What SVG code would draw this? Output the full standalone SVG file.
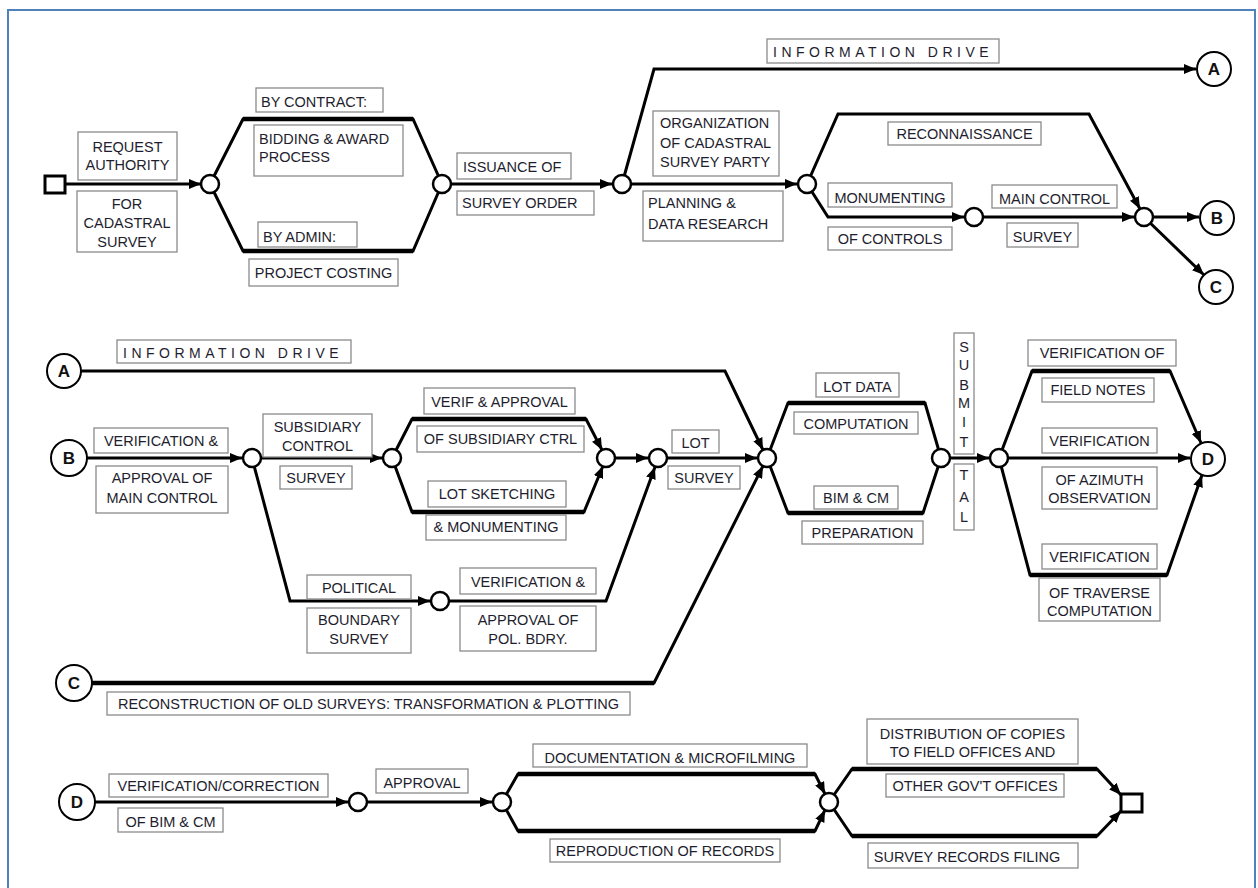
<svg xmlns="http://www.w3.org/2000/svg" width="1258" height="888" viewBox="0 0 1258 888">
<style>
.frame{fill:#fff;stroke:#4f81bd;stroke-width:2}
.conn{fill:none;stroke:#000;stroke-width:3;stroke-linejoin:miter}
.thick{fill:none;stroke:#000;stroke-width:4.5}
.ev{fill:#fff;stroke:#000;stroke-width:2.5}
.term{fill:#fff;stroke:#000;stroke-width:3}
.conc{fill:#fff;stroke:#000;stroke-width:2}
.cl{font-family:"Liberation Sans",Arial,sans-serif;font-weight:bold;font-size:17px;fill:#111;text-anchor:middle}
.box{fill:#fff;stroke:#8a8a8a;stroke-width:1.3}
.t{font-family:"Liberation Sans",Arial,sans-serif;font-size:14.5px;fill:#1e1e2e}
.m{text-anchor:middle}
.sp{font-size:14px;letter-spacing:4.5px}
</style>
<defs>
<marker id="ah" markerUnits="userSpaceOnUse" markerWidth="12" markerHeight="10" refX="12" refY="5" orient="auto">
<path d="M0,0 L12,5 L0,10 z" fill="#000"/>
</marker>
</defs>
<rect class="frame" x="8" y="10" width="1247" height="895"/>

<g id="connectors">
<!-- row 1 -->
<path class="conn" d="M66,184 L201,184" marker-end="url(#ah)"/>
<path class="conn" d="M210,184 L243,119 L413,119 L442,184"/>
<path class="conn" d="M210,184 L243,251 L413,251 L442,184"/>
<path class="thick" d="M243,119 L413,119 M243,251 L413,251"/>
<path class="conn" d="M451,184 L612,184" marker-end="url(#ah)"/>
<path class="conn" d="M622,184 L654,69 L1196,69" marker-end="url(#ah)"/>
<path class="conn" d="M631,184 L797,184" marker-end="url(#ah)"/>
<path class="conn" d="M807,184 L838,114 L1089,114 L1140,209" marker-end="url(#ah)"/>
<path class="conn" d="M807,184 L828,217 L964,217" marker-end="url(#ah)"/>
<path class="conn" d="M983,217 L1134,217" marker-end="url(#ah)"/>
<path class="conn" d="M1153,217 L1199,217" marker-end="url(#ah)"/>
<path class="conn" d="M1144,217 L1204,275" marker-end="url(#ah)"/>
<!-- row 2 -->
<path class="conn" d="M81,371 L725,371 L763,450" marker-end="url(#ah)"/>
<path class="conn" d="M87,458 L242,458" marker-end="url(#ah)"/>
<path class="conn" d="M261,458 L382,458" marker-end="url(#ah)"/>
<path class="conn" d="M252,458 L290,601 L430,601" marker-end="url(#ah)"/>
<path class="conn" d="M449,601 L606,601 L655,467" marker-end="url(#ah)"/>
<path class="conn" d="M392,458 L412,419 L586,419 L602,450" marker-end="url(#ah)"/>
<path class="conn" d="M392,458 L412,512 L584,512 L603,466" marker-end="url(#ah)"/>
<path class="thick" d="M412,419 L586,419 M412,512 L584,512"/>
<path class="conn" d="M615,458 L648,458" marker-end="url(#ah)"/>
<path class="conn" d="M667,458 L757,458" marker-end="url(#ah)"/>
<path class="conn" d="M92,683 L654,683 L763,466" marker-end="url(#ah)"/>
<path class="thick" d="M92,683 L654,683"/>
<path class="conn" d="M767,458 L788,403 L925,403 L941,458"/>
<path class="conn" d="M767,458 L788,513 L923,513 L941,458"/>
<path class="thick" d="M788,403 L925,403 M788,513 L923,513"/>
<path class="conn" d="M950,458 L989,458" marker-end="url(#ah)"/>
<path class="conn" d="M999,458 L1032,371 L1170,371 L1201,443" marker-end="url(#ah)"/>
<path class="conn" d="M1008,458 L1190,458" marker-end="url(#ah)"/>
<path class="conn" d="M999,458 L1030,575 L1167,575 L1202,475" marker-end="url(#ah)"/>
<path class="thick" d="M1032,371 L1170,371 M1030,575 L1167,575"/>
<!-- row 3 -->
<path class="conn" d="M95,802 L348,802" marker-end="url(#ah)"/>
<path class="conn" d="M367,802 L492,802" marker-end="url(#ah)"/>
<path class="conn" d="M502,802 L518,774 L815,774 L825,794" marker-end="url(#ah)"/>
<path class="conn" d="M502,802 L518,831 L815,831 L825,810" marker-end="url(#ah)"/>
<path class="thick" d="M518,774 L815,774 M518,831 L815,831"/>
<path class="conn" d="M829,802 L852,769 L1097,769 L1121,795" marker-end="url(#ah)"/>
<path class="conn" d="M829,802 L852,836 L1097,836 L1121,811" marker-end="url(#ah)"/>
<path class="thick" d="M852,769 L1097,769 M852,836 L1097,836"/>
</g>

<!-- terminals and events -->
<g id="start"><rect class="term" x="45" y="176" width="20" height="17"/></g>
<g id="end"><rect class="term" x="1121" y="794" width="21" height="18"/></g>
<g id="e1"><circle class="ev" cx="210" cy="184" r="9"/></g>
<g id="e2"><circle class="ev" cx="442" cy="184" r="9"/></g>
<g id="e3"><circle class="ev" cx="622" cy="184" r="9"/></g>
<g id="e4"><circle class="ev" cx="807" cy="184" r="9"/></g>
<g id="e5"><circle class="ev" cx="1144" cy="217" r="9"/></g>
<g id="e6"><circle class="ev" cx="974" cy="217" r="9"/></g>
<g id="e7"><circle class="ev" cx="767" cy="458" r="9"/></g>
<g id="e8"><circle class="ev" cx="252" cy="458" r="9"/></g>
<g id="e9"><circle class="ev" cx="392" cy="458" r="9"/></g>
<g id="e10"><circle class="ev" cx="440" cy="601" r="9"/></g>
<g id="e11"><circle class="ev" cx="658" cy="458" r="9"/></g>
<g id="e12"><circle class="ev" cx="606" cy="458" r="9"/></g>
<g id="e13"><circle class="ev" cx="941" cy="458" r="9"/></g>
<g id="e14"><circle class="ev" cx="999" cy="458" r="9"/></g>
<g id="e15"><circle class="ev" cx="358" cy="802" r="9"/></g>
<g id="e16"><circle class="ev" cx="502" cy="802" r="9"/></g>
<g id="e17"><circle class="ev" cx="829" cy="802" r="9"/></g>

<g id="cA1"><circle class="conc" cx="1214" cy="69" r="17"/><text class="cl" x="1214" y="75">A</text></g>
<g id="cB1"><circle class="conc" cx="1217" cy="218" r="17"/><text class="cl" x="1217" y="224">B</text></g>
<g id="cC1"><circle class="conc" cx="1216" cy="287" r="17"/><text class="cl" x="1216" y="293">C</text></g>
<g id="cA2"><circle class="conc" cx="64" cy="371" r="17"/><text class="cl" x="64" y="377">A</text></g>
<g id="cB2"><circle class="conc" cx="69" cy="458" r="18"/><text class="cl" x="69" y="464">B</text></g>
<g id="cC2"><circle class="conc" cx="74" cy="683" r="18"/><text class="cl" x="74" y="689">C</text></g>
<g id="cD1"><circle class="conc" cx="1208" cy="459" r="17"/><text class="cl" x="1208" y="465">D</text></g>
<g id="cD2"><circle class="conc" cx="77" cy="802" r="18"/><text class="cl" x="77" y="808">D</text></g>

<!-- labels row 1 -->
<g id="l1"><rect class="box" x="78" y="132" width="99" height="48"/><text class="t m" x="127.5" y="152">REQUEST</text><text class="t m" x="127.5" y="170">AUTHORITY</text></g>
<g id="l2"><rect class="box" x="77" y="191" width="100" height="61"/><text class="t m" x="127" y="209">FOR</text><text class="t m" x="127" y="228">CADASTRAL</text><text class="t m" x="127" y="247">SURVEY</text></g>
<g id="l3"><rect class="box" x="256" y="88" width="127" height="24"/><text class="t" x="261" y="107">BY CONTRACT:</text></g>
<g id="l4"><rect class="box" x="254" y="125" width="149" height="51"/><text class="t" x="259" y="144">BIDDING &amp; AWARD</text><text class="t" x="259" y="162">PROCESS</text></g>
<g id="l5"><rect class="box" x="258" y="222" width="99" height="25"/><text class="t" x="263" y="242">BY ADMIN:</text></g>
<g id="l6"><rect class="box" x="249" y="259" width="149" height="27"/><text class="t m" x="323.5" y="278">PROJECT COSTING</text></g>
<g id="l7"><rect class="box" x="457" y="153" width="114" height="26"/><text class="t" x="463" y="172">ISSUANCE OF</text></g>
<g id="l8"><rect class="box" x="457" y="191" width="137" height="24"/><text class="t" x="462" y="208">SURVEY ORDER</text></g>
<g id="l9"><rect class="box" x="767" y="39" width="232" height="24"/><text class="t sp" x="773" y="57">INFORMATION DRIVE</text></g>
<g id="l10"><rect class="box" x="653" y="111" width="126" height="65"/><text class="t" x="660" y="128">ORGANIZATION</text><text class="t" x="660" y="148">OF CADASTRAL</text><text class="t" x="660" y="167">SURVEY PARTY</text></g>
<g id="l11"><rect class="box" x="643" y="191" width="140" height="50"/><text class="t" x="648" y="208">PLANNING &amp;</text><text class="t" x="648" y="229">DATA RESEARCH</text></g>
<g id="l12"><rect class="box" x="888" y="122" width="153" height="23"/><text class="t m" x="964.5" y="139">RECONNAISSANCE</text></g>
<g id="l13"><rect class="box" x="828" y="183" width="124" height="24"/><text class="t m" x="890" y="203">MONUMENTING</text></g>
<g id="l14"><rect class="box" x="828" y="227" width="124" height="23"/><text class="t m" x="890" y="244">OF CONTROLS</text></g>
<g id="l15"><rect class="box" x="992" y="185" width="125" height="23"/><text class="t m" x="1054.5" y="204">MAIN CONTROL</text></g>
<g id="l16"><rect class="box" x="1007" y="223" width="71" height="24"/><text class="t m" x="1042.5" y="242">SURVEY</text></g>

<!-- labels row 2 -->
<g id="l17"><rect class="box" x="117" y="340" width="234" height="23"/><text class="t sp" x="123" y="358">INFORMATION DRIVE</text></g>
<g id="l18"><rect class="box" x="94" y="428" width="134" height="25"/><text class="t m" x="161" y="446">VERIFICATION &amp;</text></g>
<g id="l19"><rect class="box" x="96" y="466" width="132" height="47"/><text class="t m" x="162" y="483">APPROVAL OF</text><text class="t m" x="162" y="503">MAIN CONTROL</text></g>
<g id="l20"><rect class="box" x="263" y="414" width="109" height="43"/><text class="t m" x="317.5" y="432">SUBSIDIARY</text><text class="t m" x="317.5" y="451">CONTROL</text></g>
<g id="l21"><rect class="box" x="280" y="466" width="72" height="23"/><text class="t m" x="316" y="483">SURVEY</text></g>
<g id="l22"><rect class="box" x="424" y="388" width="151" height="26"/><text class="t m" x="499.5" y="407">VERIF &amp; APPROVAL</text></g>
<g id="l23"><rect class="box" x="417" y="426" width="167" height="26"/><text class="t m" x="500.5" y="444">OF SUBSIDIARY CTRL</text></g>
<g id="l24"><rect class="box" x="428" y="481" width="138" height="26"/><text class="t m" x="497" y="499">LOT SKETCHING</text></g>
<g id="l25"><rect class="box" x="426" y="515" width="140" height="25"/><text class="t m" x="496" y="532">&amp; MONUMENTING</text></g>
<g id="l26"><rect class="box" x="307" y="575" width="104" height="24"/><text class="t m" x="359" y="593">POLITICAL</text></g>
<g id="l27"><rect class="box" x="307" y="608" width="104" height="45"/><text class="t m" x="359" y="625">BOUNDARY</text><text class="t m" x="359" y="644">SURVEY</text></g>
<g id="l28"><rect class="box" x="460" y="568" width="136" height="26"/><text class="t m" x="528" y="587">VERIFICATION &amp;</text></g>
<g id="l29"><rect class="box" x="460" y="606" width="136" height="45"/><text class="t m" x="528" y="625">APPROVAL OF</text><text class="t m" x="528" y="644">POL. BDRY.</text></g>
<g id="l30"><rect class="box" x="672" y="430" width="47" height="23"/><text class="t m" x="695.5" y="448">LOT</text></g>
<g id="l31"><rect class="box" x="668" y="466" width="72" height="23"/><text class="t m" x="704" y="483">SURVEY</text></g>
<g id="l32"><rect class="box" x="107" y="692" width="523" height="23"/><text class="t m" x="368.5" y="709">RECONSTRUCTION OF OLD SURVEYS: TRANSFORMATION &amp; PLOTTING</text></g>
<g id="l33"><rect class="box" x="816" y="373" width="83" height="24"/><text class="t m" x="857.5" y="392">LOT DATA</text></g>
<g id="l34"><rect class="box" x="794" y="412" width="124" height="22"/><text class="t m" x="856" y="429">COMPUTATION</text></g>
<g id="l35"><rect class="box" x="814" y="486" width="84" height="23"/><text class="t m" x="856" y="503">BIM &amp; CM</text></g>
<g id="l36"><rect class="box" x="802" y="521" width="121" height="23"/><text class="t m" x="862.5" y="538">PREPARATION</text></g>
<g id="l37"><rect class="box" x="954" y="333" width="20" height="121"/><text class="t m" x="964" y="352">S</text><text class="t m" x="964" y="370">U</text><text class="t m" x="964" y="390">B</text><text class="t m" x="964" y="408">M</text><text class="t m" x="964" y="427">I</text><text class="t m" x="964" y="447">T</text></g>
<g id="l38"><rect class="box" x="954" y="464" width="20" height="66"/><text class="t m" x="964" y="480">T</text><text class="t m" x="964" y="502">A</text><text class="t m" x="964" y="522">L</text></g>
<g id="l39"><rect class="box" x="1028" y="340" width="148" height="26"/><text class="t m" x="1102" y="358">VERIFICATION OF</text></g>
<g id="l40"><rect class="box" x="1042" y="378" width="112" height="24"/><text class="t m" x="1098" y="395">FIELD NOTES</text></g>
<g id="l41"><rect class="box" x="1042" y="428" width="115" height="25"/><text class="t m" x="1099.5" y="446">VERIFICATION</text></g>
<g id="l42"><rect class="box" x="1042" y="467" width="115" height="42"/><text class="t m" x="1099.5" y="485">OF AZIMUTH</text><text class="t m" x="1099.5" y="503">OBSERVATION</text></g>
<g id="l43"><rect class="box" x="1042" y="544" width="115" height="25"/><text class="t m" x="1099.5" y="562">VERIFICATION</text></g>
<g id="l44"><rect class="box" x="1039" y="578" width="121" height="43"/><text class="t m" x="1099.5" y="598">OF TRAVERSE</text><text class="t m" x="1099.5" y="616">COMPUTATION</text></g>

<!-- labels row 3 -->
<g id="l45"><rect class="box" x="109" y="774" width="219" height="23"/><text class="t m" x="218.5" y="791">VERIFICATION/CORRECTION</text></g>
<g id="l46"><rect class="box" x="118" y="808" width="105" height="24"/><text class="t m" x="170.5" y="827">OF BIM &amp; CM</text></g>
<g id="l47"><rect class="box" x="376" y="769" width="92" height="24"/><text class="t m" x="422" y="788">APPROVAL</text></g>
<g id="l48"><rect class="box" x="533" y="744" width="274" height="23"/><text class="t m" x="670" y="763">DOCUMENTATION &amp; MICROFILMING</text></g>
<g id="l49"><rect class="box" x="550" y="839" width="230" height="23"/><text class="t m" x="665" y="856">REPRODUCTION OF RECORDS</text></g>
<g id="l50"><rect class="box" x="867" y="719" width="211" height="45"/><text class="t m" x="972.5" y="739">DISTRIBUTION OF COPIES</text><text class="t m" x="972.5" y="757">TO FIELD OFFICES AND</text></g>
<g id="l51"><rect class="box" x="886" y="774" width="178" height="23"/><text class="t m" x="975" y="791">OTHER GOV'T OFFICES</text></g>
<g id="l52"><rect class="box" x="868" y="843" width="210" height="25"/><text class="t m" x="967" y="862">SURVEY RECORDS FILING</text></g>
</svg>
